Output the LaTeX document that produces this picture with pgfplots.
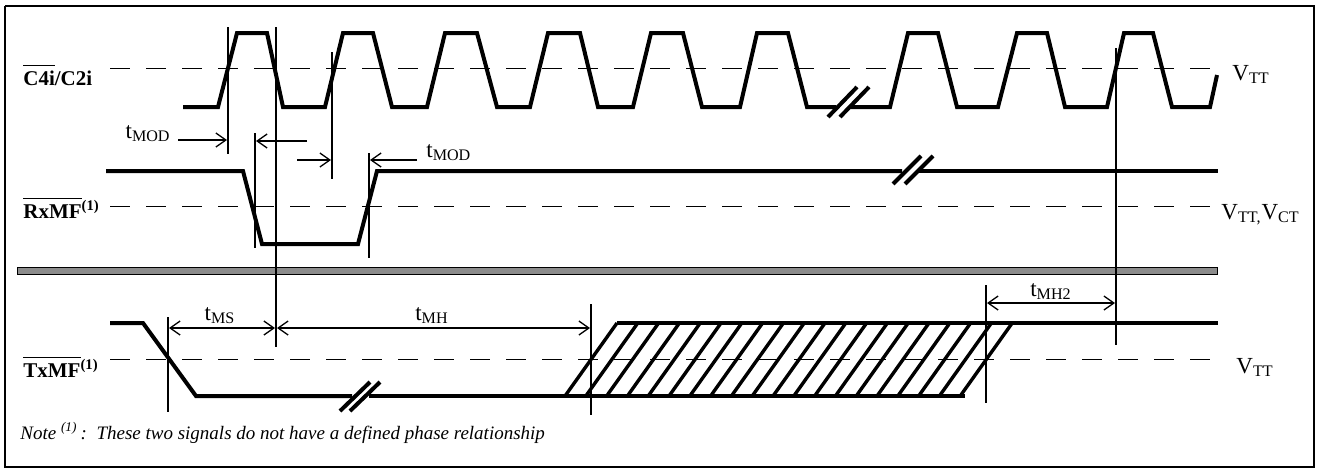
\documentclass[border=0pt]{standalone}
\usepackage{pgfplots}
\pgfplotsset{compat=1.18}
\usepackage{fontspec}
\setmainfont{Liberation Serif}
\usetikzlibrary{arrows.meta}
\definecolor{bargray}{HTML}{8C8C8C}
\begin{document}
\begin{tikzpicture}
\begin{axis}[
  scale only axis, width=660pt, height=235.5pt,
  xmin=0, xmax=1320, ymin=0, ymax=471, y dir=reverse,
  hide axis, clip=false,
  sig/.style={black, line width=2pt, mark=none},
  hat/.style={black, line width=1.7pt, mark=none},
  vl/.style={black, line width=0.8pt, mark=none},
  dsh/.style={black, line width=0.5pt, dash pattern=on 10pt off 8pt, mark=none},
  arr/.style={black, line width=0.65pt, mark=none},
  tip/.style={-{Straight Barb[length=5pt,width=7pt]}},
  dtip/.style={{Straight Barb[length=5pt,width=7pt]}-{Straight Barb[length=5pt,width=7pt]}},
]
\path (axis cs:0,0) rectangle (axis cs:1320,471);
% border
\addplot[black, line width=1.2pt, mark=none] coordinates {(5,6) (1314,6) (1314,467) (5,467) (5,6)};
% dashed threshold lines
\addplot[dsh] coordinates {(110,68) (1217,68)};
\addplot[dsh] coordinates {(110,206) (1217,206)};
\addplot[dsh] coordinates {(110,359) (1217,359)};
% gray separator bar
\addplot[fill=bargray, draw=black, line width=0.5pt, mark=none] coordinates {(17,267) (1217,267) (1217,274) (17,274)} -- cycle;
% clock C4i/C2i
\addplot[sig] coordinates {(183,107) (218,107) (237,33) (267,33) (283,107) (325,107) (343,33) (373,33) (392,107) (427,107) (445,33) (477,33) (497,107) (530,107) (548,33) (580,33) (598,107) (633,107) (651,33) (683,33) (702,107) (740,107) (757,33) (788,33) (807,107) (836,107)};
\addplot[sig] coordinates {(851,107) (890,107) (908,33) (938,33) (957,107) (998,107) (1017,33) (1047,33) (1065,107) (1107,107) (1124,33) (1153,33) (1172,107) (1210,107) (1217,75)};
\addplot[sig] coordinates {(828,117) (857,87)};
\addplot[sig] coordinates {(840,117) (869,87)};
% RxMF
\addplot[sig] coordinates {(106,171) (243,171) (262,244) (358,244) (377,171) (902,171)};
\addplot[sig] coordinates {(918,171) (1218,171)};
\addplot[sig] coordinates {(893,184) (921,156)};
\addplot[sig] coordinates {(905,184) (933,156)};
% TxMF
\addplot[sig] coordinates {(110,323) (143,323) (196,396) (352,396)};
\addplot[sig] coordinates {(369,396) (965,396)};
\addplot[sig] coordinates {(340,411) (370,382)};
\addplot[sig] coordinates {(350,411) (380,382)};
\addplot[sig] coordinates {(617,323) (1218,323)};
% hatching
\addplot[hat] coordinates {(565,396) (617,323)};
\addplot[hat] coordinates {(585.8,396) (637.8,323)};
\addplot[hat] coordinates {(606.6,396) (658.6,323)};
\addplot[hat] coordinates {(627.4,396) (679.4,323)};
\addplot[hat] coordinates {(648.2,396) (700.2,323)};
\addplot[hat] coordinates {(669,396) (721,323)};
\addplot[hat] coordinates {(689.8,396) (741.8,323)};
\addplot[hat] coordinates {(710.6,396) (762.6,323)};
\addplot[hat] coordinates {(731.4,396) (783.4,323)};
\addplot[hat] coordinates {(752.2,396) (804.2,323)};
\addplot[hat] coordinates {(773,396) (825,323)};
\addplot[hat] coordinates {(793.8,396) (845.8,323)};
\addplot[hat] coordinates {(814.6,396) (866.6,323)};
\addplot[hat] coordinates {(835.4,396) (887.4,323)};
\addplot[hat] coordinates {(856.2,396) (908.2,323)};
\addplot[hat] coordinates {(877,396) (929,323)};
\addplot[hat] coordinates {(897.8,396) (949.8,323)};
\addplot[hat] coordinates {(918.6,396) (970.6,323)};
\addplot[hat] coordinates {(939.4,396) (991.4,323)};
\addplot[hat] coordinates {(960.2,396) (1012.2,323)};
% vertical reference lines
\addplot[vl] coordinates {(228,27) (228,154)};
\addplot[vl] coordinates {(276,27) (276,347)};
\addplot[vl] coordinates {(255,133) (255,248)};
\addplot[vl] coordinates {(332,52) (332,179)};
\addplot[vl] coordinates {(369,153) (369,258)};
\addplot[vl] coordinates {(1116,48) (1116,345)};
\addplot[vl] coordinates {(986,285) (986,403)};
\addplot[vl] coordinates {(168,317) (168,412)};
\addplot[vl] coordinates {(591,304) (591,415)};
% timing arrows
\addplot[arr, tip] coordinates {(178,140) (227,140)};
\addplot[arr, tip] coordinates {(307,141) (256,141)};
\addplot[arr, tip] coordinates {(297,160) (331,160)};
\addplot[arr, tip] coordinates {(417,160) (370,160)};
\addplot[arr, dtip] coordinates {(169,328) (275,328)};
\addplot[arr, dtip] coordinates {(277,328) (590,328)};
\addplot[arr, dtip] coordinates {(987,303) (1115,303)};
% timing labels
\node[anchor=base east, inner sep=0pt, font=\fontsize{11.5}{13}\selectfont] at (axis cs:171,138) {t\textsubscript{MOD}};
\node[anchor=base west, inner sep=0pt, font=\fontsize{11.5}{13}\selectfont] at (axis cs:426,157) {t\textsubscript{MOD}};
\node[anchor=base, inner sep=0pt, font=\fontsize{11.5}{13}\selectfont] at (axis cs:220,320) {t\textsubscript{MS}};
\node[anchor=base, inner sep=0pt, font=\fontsize{11.5}{13}\selectfont] at (axis cs:432,320) {t\textsubscript{MH}};
\node[anchor=base, inner sep=0pt, font=\fontsize{11.5}{13}\selectfont] at (axis cs:1051,296) {t\textsubscript{MH2}};
% signal names
\node[anchor=base west, inner sep=0pt, font=\fontsize{10.5}{12}\selectfont\bfseries] at (axis cs:23,85) {$\overline{\hbox{C4i}\rule{0pt}{8.4pt}}$/C2i};
\node[anchor=base west, inner sep=0pt, font=\fontsize{10.5}{12}\selectfont\bfseries] at (axis cs:23,218) {$\overline{\hbox{RxMF}\rule{0pt}{8.4pt}}$\textsuperscript{(1)}};
\node[anchor=base west, inner sep=0pt, font=\fontsize{10.5}{12}\selectfont\bfseries] at (axis cs:23,377) {$\overline{\hbox{TxMF}\rule{0pt}{8.4pt}}$\textsuperscript{(1)}};
% level names
\node[anchor=base west, inner sep=0pt, font=\fontsize{11.5}{13}\selectfont] at (axis cs:1232,80) {V\textsubscript{TT}};
\node[anchor=base west, inner sep=0pt, font=\fontsize{11.5}{13}\selectfont] at (axis cs:1221,219) {V\textsubscript{TT,}V\textsubscript{CT}};
\node[anchor=base west, inner sep=0pt, font=\fontsize{11.5}{13}\selectfont] at (axis cs:1236,373) {V\textsubscript{TT}};
% note
\node[anchor=base west, inner sep=0pt, font=\fontsize{9.5}{11}\selectfont\itshape] at (axis cs:20,439) {Note \textsuperscript{(1)}\,:\ \ These two signals do not have a defined phase relationship};
\end{axis}
\end{tikzpicture}
\end{document}
